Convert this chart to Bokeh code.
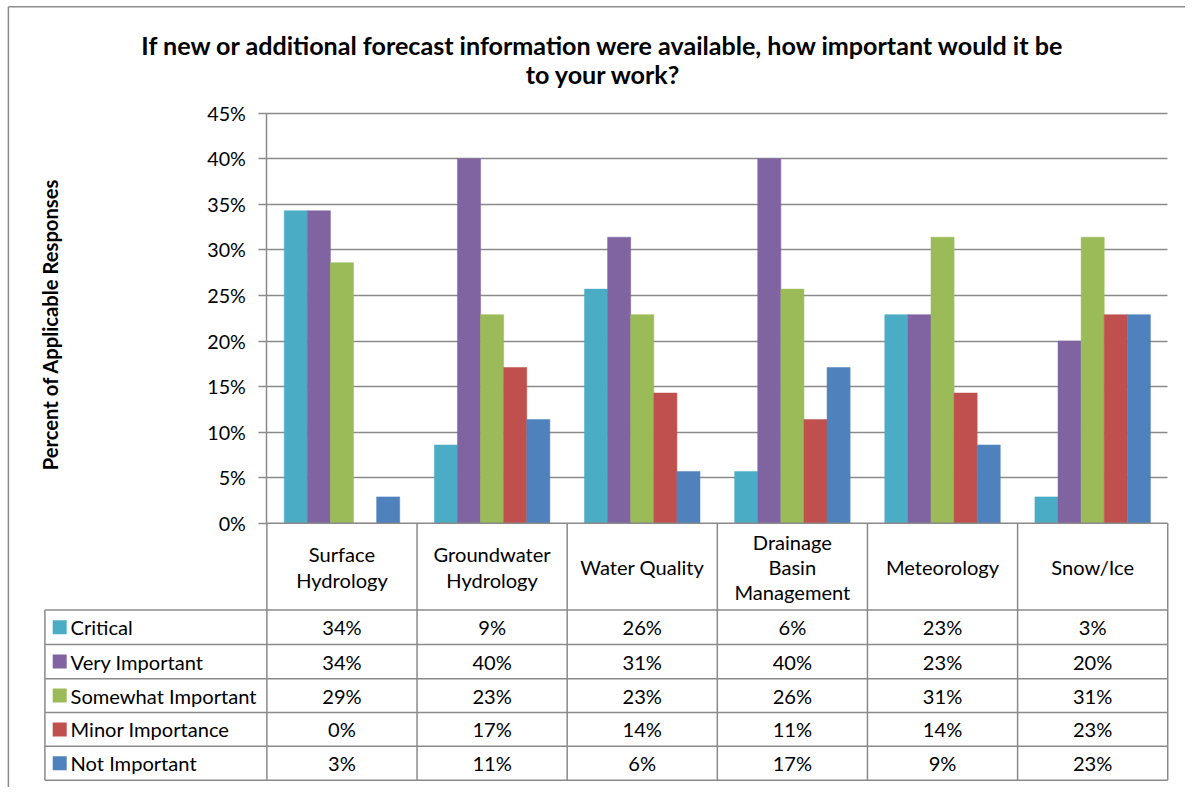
import math
from bokeh.plotting import figure
from bokeh.models import Range1d, LinearAxis, FixedTicker, PrintfTickFormatter, Grid, ColumnDataSource
from bokeh.core.properties import value
from bokeh.embed import file_html
from bokeh.resources import INLINE

# ---------------- data ----------------
title_lines = ["If new or additional forecast information were available, how important would it be",
               "to your work?"]
y_title = "Percent of Applicable  Responses"
categories = ["Surface\nHydrology", "Groundwater\nHydrology", "Water Quality",
              "Drainage\nBasin\nManagement", "Meteorology", "Snow/Ice"]
series_names = ["Critical", "Very Important", "Somewhat Important", "Minor Importance", "Not Important"]
critical = [34.3, 8.6, 25.7, 5.7, 22.9, 2.9]
very_important = [34.3, 40.0, 31.4, 40.0, 22.9, 20.0]
somewhat_important = [28.6, 22.9, 22.9, 25.7, 31.4, 31.4]
minor_importance = [0.0, 17.1, 14.3, 11.4, 14.3, 22.9]
not_important = [2.9, 11.4, 5.7, 17.1, 8.6, 22.9]
y_ticks = [0, 5, 10, 15, 20, 25, 30, 35, 40, 45]

series_values = [critical, very_important, somewhat_important, minor_importance, not_important]
colors = ["#4BACC6", "#8064A2", "#9BBB59", "#C0504D", "#4F81BD"]

# ---------------- layout (reference pixels, scaled into the figure) ----------------
W, H = 1185, 787
REF_W, REF_H = 1201.0, 803.0
SC = (W / REF_W + H / REF_H) / 2
PLOT_L, PLOT_R = 270.0, 1183.0
PY0, PY45 = 533.5, 115.0
ncat = len(categories)
ux = (PLOT_R - PLOT_L) / ncat
uy = (PY0 - PY45) / 45.0

def X(px):
    return (px - PLOT_L) / ux

def Y(py):
    return (PY0 - py) / uy

def fs(px):
    return f"{px * SC:.1f}px"

FONT = value("Lato")
GRAY = "#8a8a8a"
TXT = "#000000"

p = figure(width=W, height=H, x_range=Range1d(X(0), X(REF_W)), y_range=Range1d(Y(REF_H), Y(0)),
           x_axis_type=None, y_axis_type=None, toolbar_location=None, output_backend="svg",
           min_border=0, outline_line_color=None, background_fill_color="white",
           border_fill_color="white")

# outer chart border (left and top visible)
p.segment(x0=[X(8), X(8)], y0=[Y(6.5), Y(6.5)], x1=[X(8), X(REF_W)], y1=[Y(REF_H), Y(6.5)],
          line_color="#8c8c8c", line_width=1.5)

# gridlines
grid = Grid(dimension=1, ticker=FixedTicker(ticks=y_ticks[1:]), cross_bounds=(0, ncat),
            grid_line_color=GRAY, grid_line_width=1.5)
p.add_layout(grid, "center")

# bars
bw = 1.0 / 6.5
for j, (name, vals, col) in enumerate(zip(series_names, series_values, colors)):
    xs = [i + 0.5 + (j - 2) * bw for i in range(ncat)]
    src = ColumnDataSource(dict(x=xs, top=vals))
    p.vbar(x="x", top="top", bottom=0, width=bw, source=src, fill_color=col, line_color=col, line_width=0.5)

# y axis at the plot's left edge
yaxis = LinearAxis(fixed_location=0, bounds=(0, 45), ticker=FixedTicker(ticks=y_ticks),
                   formatter=PrintfTickFormatter(format="%d%%"),
                   major_tick_out=8, major_tick_in=0, minor_tick_out=0, minor_tick_in=0,
                   axis_line_color=GRAY, axis_line_width=1.5,
                   major_tick_line_color=GRAY, major_tick_line_width=1.5,
                   major_label_text_font="Lato", major_label_text_font_size=fs(20),
                   major_label_text_color=TXT, major_label_standoff=13)
p.add_layout(yaxis, "left")

# data table lines
row_edges = [622, 657, 692, 726.5, 761, 795.5]
hx0, hx1, hy = [], [], []
hx0.append(X(PLOT_L)); hx1.append(X(PLOT_R)); hy.append(Y(PY0))
for r in row_edges:
    hx0.append(X(45)); hx1.append(X(PLOT_R)); hy.append(Y(r))
p.segment(x0=hx0, x1=hx1, y0=hy, y1=hy, line_color=GRAY, line_width=1.5)
vx = [float(i) for i in range(ncat + 1)] + [X(45)]
vy0 = [Y(PY0)] * (ncat + 1) + [Y(622)]
vy1 = [Y(795.5)] * (ncat + 2)
p.segment(x0=vx, x1=vx, y0=vy0, y1=vy1, line_color=GRAY, line_width=1.5)

# title
p.text(x=[X(611)] * 2, y=[Y(45), Y(75)], text=title_lines, text_font=FONT, text_font_style="bold",
       text_font_size=fs(25.5), text_align="center", text_baseline="middle", text_color=TXT)

# y-axis title
p.text(x=[X(50)], y=[Y(328)], text=[y_title], angle=math.pi / 2, text_font=FONT, text_font_style="bold",
       text_font_size=fs(20.5), text_align="center", text_baseline="middle", text_color=TXT)

# category header labels
p.text(x=[i + 0.5 for i in range(ncat)], y=[Y(578)] * ncat, text=categories, text_font=FONT,
       text_font_size=fs(20.4), text_align="center", text_baseline="middle", text_line_height=1.05,
       text_color=TXT)

# legend column
row_centers = [(row_edges[k] + row_edges[k + 1]) / 2 for k in range(len(row_edges) - 1)]
p.scatter(x=[X(60)] * len(series_names), y=[Y(c) for c in row_centers], marker="square", size=14,
          fill_color=colors, line_color=None)
p.text(x=[X(71)] * len(series_names), y=[Y(c) for c in row_centers], text=series_names, text_font=FONT,
       text_font_size=fs(20.4), text_align="left", text_baseline="middle", text_color=TXT)

# table values
tx, ty, tt = [], [], []
for k, vals in enumerate(series_values):
    for i, v in enumerate(vals):
        tx.append(i + 0.5)
        ty.append(Y(row_centers[k]))
        tt.append(f"{round(v)}%")
p.text(x=tx, y=ty, text=tt, text_font=FONT, text_font_size=fs(20.4), text_align="center",
       text_baseline="middle", text_color=TXT)

open("out.html", "w").write(file_html(p, INLINE))
